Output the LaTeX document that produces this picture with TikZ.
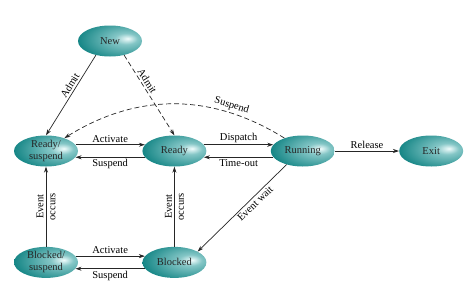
\documentclass[tikz,border=0pt]{standalone}
\usepackage{fontspec}
\setmainfont{Liberation Serif}
\usepackage{tikz}
\usetikzlibrary{shapes.geometric, arrows.meta, positioning, calc}
\definecolor{statedark}{RGB}{0,132,132}
\definecolor{statelight}{RGB}{240,252,252}
\pgfdeclareradialshading{stateshade}{\pgfpoint{14bp}{4bp}}{%
  color(0bp)=(statelight); color(9bp)=(statelight!55!statedark);
  color(38bp)=(statedark!92!black); color(80bp)=(statedark!85!black)}

\begin{document}
\begin{tikzpicture}[x=1pt, y=1pt, font=\fontsize{10.5pt}{12pt}\selectfont,
        state/.style={ellipse, minimum width=64pt, minimum height=31pt, inner sep=0pt, shading=stateshade, align=center, text=black!85},
        arrow/.style={draw=black!85, line width=0.7pt, -{Stealth[length=6pt, width=4pt]}},
        dasharrow/.style={arrow, dash pattern=on 5pt off 3pt},
        lbl/.style={inner sep=2pt}
    ]
    \useasboundingbox (0,0) rectangle (474,-295);

        \node[state] (readysusp) at (46,-151) {Ready/\\suspend};
        \node[state, right=64pt of readysusp] (ready) {Ready};
        \node[state, right=64pt of ready] (running) {Running};
        \node[state, right=64pt of running] (exit) {Exit};
        \node[state, below=80pt of readysusp] (blockedsusp) {Blocked/\\suspend};
        \node[state, right=64pt of blockedsusp] (blocked) {Blocked};
        \node[state] (new) at (110,-41) {New};

        \draw[arrow] (new.225) -- node[lbl, pos=0.42, sloped, above] {Admit} (readysusp.north);
        \draw[dasharrow] (new.-45) -- node[lbl, pos=0.36, sloped, above] {Admit} (ready.north);
        \draw[dasharrow] (running.145) to[out=148, in=32] node[lbl, pos=0.25, sloped, above] {Suspend} (readysusp.35);

        \draw[arrow] (readysusp.12) -- node[lbl, above] {Activate} (ready.168);
        \draw[arrow] (ready.-168) -- node[lbl, below] {Suspend} (readysusp.-12);
        \draw[arrow] (ready.12) -- node[lbl, above] {Dispatch} (running.168);
        \draw[arrow] (running.-168) -- node[lbl, below] {Time-out} (ready.-12);
        \draw[arrow] (running) -- node[lbl, above] {Release} (exit);
        \draw[arrow] (running.220) -- node[lbl, pos=0.4, sloped, below] {Event wait} (blocked.25);

        \draw[arrow] (blockedsusp) -- node[rotate=90, align=center] {Event\\occurs} (readysusp);
        \draw[arrow] (blocked) -- node[rotate=90, align=center] {Event\\occurs} (ready);
        \draw[arrow] (blockedsusp.12) -- node[lbl, above] {Activate} (blocked.168);
        \draw[arrow] (blocked.-168) -- node[lbl, below] {Suspend} (blockedsusp.-12);
    \end{tikzpicture}
\end{document}
